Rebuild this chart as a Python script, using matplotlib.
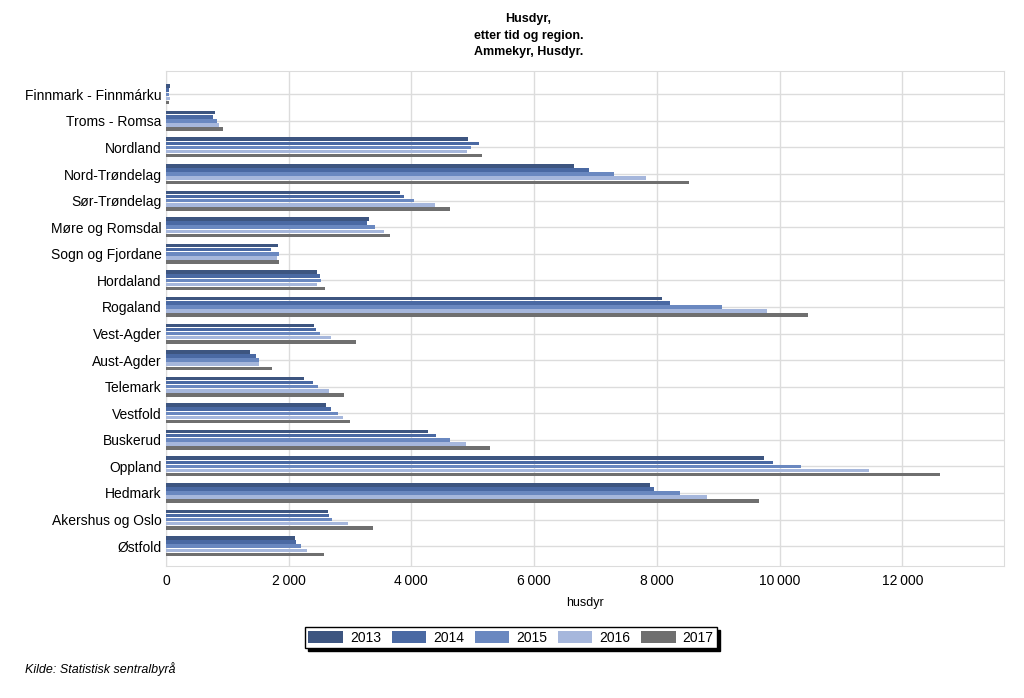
import matplotlib
matplotlib.use("Agg")
import matplotlib.pyplot as plt
import numpy as np
from matplotlib.ticker import FuncFormatter

plt.rcParams['font.family'] = ['Liberation Sans', 'DejaVu Sans']

regions = ["Finnmark - Finnmárku", "Troms - Romsa", "Nordland", "Nord-Trøndelag",
           "Sør-Trøndelag", "Møre og Romsdal", "Sogn og Fjordane", "Hordaland",
           "Rogaland", "Vest-Agder", "Aust-Agder", "Telemark", "Vestfold",
           "Buskerud", "Oppland", "Hedmark", "Akershus og Oslo", "Østfold"]
years = ["2013", "2014", "2015", "2016", "2017"]

v2013 = [60, 800, 4920, 6650, 3810, 3310, 1835, 2465, 8080, 2410, 1370, 2255, 2615, 4270, 9750, 7890, 2640, 2105]
v2014 = [45, 775, 5100, 6895, 3885, 3270, 1715, 2505, 8215, 2445, 1465, 2390, 2695, 4400, 9890, 7950, 2660, 2115]
v2015 = [55, 840, 4980, 7300, 4040, 3405, 1850, 2520, 9070, 2505, 1520, 2480, 2805, 4630, 10350, 8375, 2715, 2200]
v2016 = [60, 870, 4915, 7820, 4380, 3560, 1810, 2460, 9795, 2690, 1520, 2650, 2885, 4895, 11455, 8815, 2960, 2295]
v2017 = [55, 935, 5150, 8525, 4630, 3655, 1845, 2595, 10465, 3095, 1735, 2905, 3000, 5280, 12610, 9660, 3370, 2580]
series = [v2013, v2014, v2015, v2016, v2017]
colors = ["#3d5580", "#4a69a3", "#6a88c0", "#a6b7dc", "#6f6f6f"]

fig = plt.figure(figsize=(10.24, 6.98), dpi=100)
ax = fig.add_axes([0.162, 0.189, 0.818, 0.709])

y = np.arange(len(regions))
slot = 0.155
for i, (vals, c) in enumerate(zip(series, colors)):
    ax.barh(y + (i - 2) * slot, vals, height=slot * 0.85, color=c, label=years[i], zorder=3)

ax.set_ylim(len(regions) - 1 + 0.75, -0.87)
ax.set_xlim(0, 13650)
ax.set_yticks(y)
ax.set_yticklabels(regions, fontsize=10)
ax.set_xticks([0, 2000, 4000, 6000, 8000, 10000, 12000])
ax.xaxis.set_major_formatter(FuncFormatter(lambda v, p: f"{int(v):,}".replace(",", "\u2009")))
ax.tick_params(axis='both', length=0, labelsize=10, pad=6)
ax.tick_params(axis='y', pad=3)
ax.grid(True, color="#dcdcdc", linewidth=1, zorder=0)
for s in ax.spines.values():
    s.set_color("#dcdcdc")
ax.set_xlabel("husdyr", fontsize=9, labelpad=6)

fig.text(0.516, 0.982, "Husdyr,\netter tid og region.\nAmmekyr, Husdyr.", ha='center', va='top',
         fontsize=9, fontweight='bold', linespacing=1.55)

leg = fig.legend(loc='center', bbox_to_anchor=(0.499, 0.086), ncol=5, fontsize=10,
                 frameon=True, fancybox=False, shadow={'color': 'black', 'alpha': 1},
                 handlelength=2.5, handleheight=0.9, columnspacing=0.75, handletextpad=0.5,
                 borderpad=0.25, borderaxespad=0)
leg.get_frame().set_edgecolor('black')
leg.get_frame().set_linewidth(1)

fig.text(0.024, 0.042, "Kilde: Statistisk sentralbyrå", fontsize=9, style='italic', ha='left', va='center')

fig.savefig("out.png", dpi=100)
